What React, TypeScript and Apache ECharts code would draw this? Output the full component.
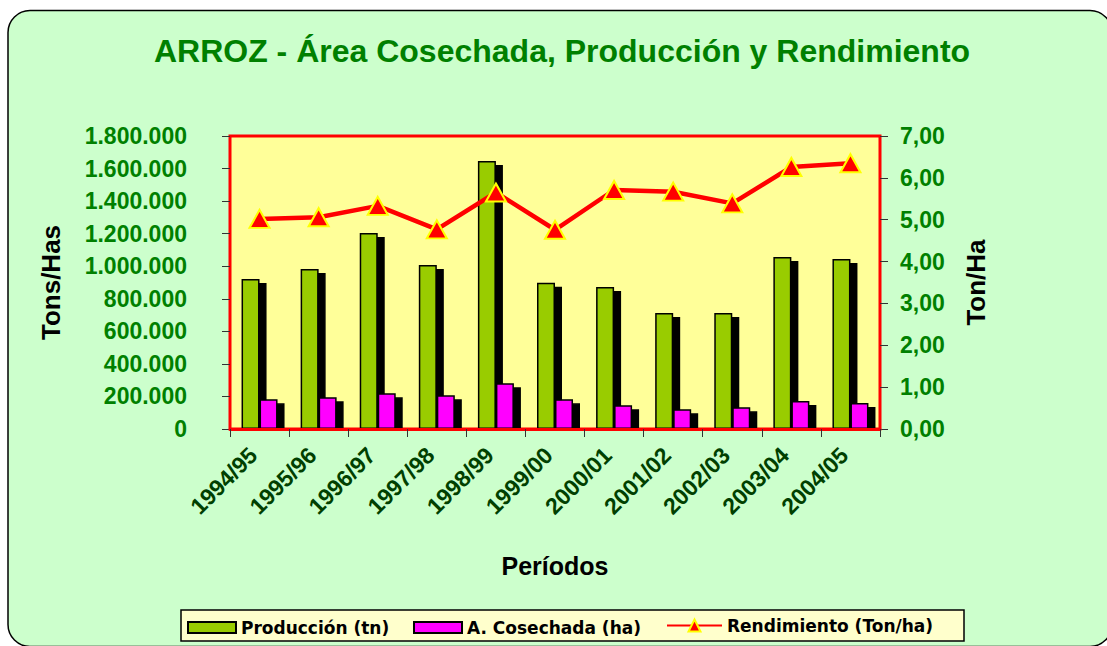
import React, { useEffect, useRef } from "react";
import * as echarts from "echarts";

const categories = ["1994/95", "1995/96", "1996/97", "1997/98", "1998/99", "1999/00", "2000/01", "2001/02", "2002/03", "2003/04", "2004/05"];
const produccion = [921000, 983000, 1204000, 1007000, 1646000, 899000, 872000, 713000, 713000, 1057000, 1044000];
const cosechada = [182000, 195000, 219000, 207000, 281000, 182000, 146000, 121000, 133000, 172000, 160000];
const rendimiento = [5.02, 5.06, 5.33, 4.77, 5.65, 4.76, 5.71, 5.67, 5.39, 6.26, 6.35];
const seriesNames = ["Producción (tn)", "A. Cosechada (ha)", "Rendimiento (Ton/ha)"];
const titleText = "ARROZ - Área Cosechada, Producción y Rendimiento";

const FONT = "'Liberation Sans', Arial, sans-serif";
const LEGEND_FONT = "'DejaVu Sans', sans-serif";

function fmtThousands(v: number): string {
  return String(v).replace(/\B(?=(\d{3})+(?!\d))/g, ".");
}

export default function App() {
  const ref = useRef<HTMLDivElement>(null);
  useEffect(() => {
    if (!ref.current) return;
    const chart = echarts.init(ref.current, null, { renderer: "svg" });
    const noShadow = { shadowBlur: 0, shadowOffsetX: 0, shadowOffsetY: 0, shadowColor: "rgba(0,0,0,0)" };
    const legendText = { fontFamily: LEGEND_FONT, fontWeight: "bold", fontSize: 17, color: "#000" };
    chart.setOption({
      animation: false,
      graphic: [
        {
          type: "rect",
          z: -10,
          shape: { x: 8, y: 10.5, width: 1104, height: 636, r: 22 },
          style: { fill: "#CCFFCC", stroke: "#000", lineWidth: 1.5 },
        },
        {
          type: "rect",
          z: 2.5,
          shape: { x: 228, y: 430.5, width: 660, height: 6 },
          style: { fill: "#CCFFCC" },
        },
        {
          type: "rect",
          z: 3,
          shape: { x: 181, y: 610, width: 783, height: 31 },
          style: { fill: "#FFFFCC", stroke: "#000", lineWidth: 1.5 },
        },
        {
          type: "text",
          z: 5,
          x: 562,
          y: 51,
          style: {
            text: titleText,
            fill: "#008000",
            font: `bold 32px ${FONT}`,
            textAlign: "center",
            textVerticalAlign: "middle",
          },
        },
      ],
      grid: {
        left: 230,
        right: 227,
        top: 136,
        bottom: 217,
        show: true,
        backgroundColor: "#FFFF99",
        borderColor: "#FF0000",
        borderWidth: 3,
      },
      legend: [
        {
          data: [seriesNames[0]],
          left: 187,
          top: 619,
          padding: 0,
          icon: "rect",
          itemWidth: 48,
          itemHeight: 11,
          textStyle: legendText,
          itemStyle: { ...noShadow, borderColor: "#000", borderWidth: 2 },
        },
        {
          data: [seriesNames[1]],
          left: 413,
          top: 619,
          padding: 0,
          icon: "rect",
          itemWidth: 48,
          itemHeight: 11,
          textStyle: legendText,
          itemStyle: { ...noShadow, borderColor: "#000", borderWidth: 2 },
        },
        {
          data: [seriesNames[2]],
          left: 666,
          top: 617,
          padding: 0,
          itemWidth: 55,
          itemHeight: 15,
          textStyle: legendText,
        },
      ],
      xAxis: {
        type: "category",
        data: categories,
        z: 3,
        boundaryGap: true,
        axisLine: { show: true, lineStyle: { color: "#FF0000", width: 3 } },
        axisTick: { show: true, length: 8, interval: 0, lineStyle: { color: "#333", width: 1 } },
        axisLabel: {
          interval: 0,
          rotate: 45,
          margin: 16,
          padding: [0, 9, 0, 0],
          color: "#004000",
          fontFamily: FONT,
          fontWeight: "bold",
          fontSize: 23,
        },
        name: "Períodos",
        nameLocation: "middle",
        nameGap: 124,
        nameTextStyle: { color: "#000", fontFamily: FONT, fontWeight: "bold", fontSize: 25 },
        splitLine: { show: false },
      },
      yAxis: [
        {
          type: "value",
          min: 0,
          max: 1800000,
          interval: 200000,
          position: "left",
          axisLine: { show: false },
          axisTick: { show: true, length: 8, lineStyle: { color: "#333", width: 1 } },
          splitLine: { show: false },
          axisLabel: {
            margin: 43,
            color: "#008000",
            fontFamily: FONT,
            fontWeight: "bold",
            fontSize: 23,
            formatter: (v: number) => fmtThousands(v),
          },
          name: "Tons/Has",
          nameLocation: "middle",
          nameGap: 166,
          nameRotate: 90,
          nameTextStyle: { color: "#000", fontFamily: FONT, fontWeight: "bold", fontSize: 26 },
        },
        {
          type: "value",
          min: 0,
          max: 7,
          interval: 1,
          position: "right",
          axisLine: { show: false },
          axisTick: { show: true, length: 8, lineStyle: { color: "#333", width: 1 } },
          splitLine: { show: false },
          axisLabel: {
            margin: 20,
            color: "#008000",
            fontFamily: FONT,
            fontWeight: "bold",
            fontSize: 23,
            formatter: (v: number) => v.toFixed(2).replace(".", ","),
          },
          name: "Ton/Ha",
          nameLocation: "middle",
          nameGap: 83,
          nameRotate: 90,
          nameTextStyle: { color: "#000", fontFamily: FONT, fontWeight: "bold", fontSize: 26 },
        },
      ],
      series: [
        {
          name: seriesNames[0],
          type: "bar",
          data: produccion,
          barWidth: 18,
          barGap: "0%",
          itemStyle: {
            color: "#99CC00",
            borderColor: "#000",
            borderWidth: 1.5,
            shadowColor: "#000",
            shadowBlur: 0,
            shadowOffsetX: 7,
            shadowOffsetY: 4,
          },
        },
        {
          name: seriesNames[1],
          type: "bar",
          data: cosechada,
          barWidth: 18,
          barGap: "0%",
          itemStyle: {
            color: "#FF00FF",
            borderColor: "#000",
            borderWidth: 1.5,
            shadowColor: "#000",
            shadowBlur: 0,
            shadowOffsetX: 7,
            shadowOffsetY: 4,
          },
        },
        {
          name: seriesNames[2],
          type: "line",
          yAxisIndex: 1,
          data: rendimiento,
          z: 5,
          symbol: "triangle",
          symbolSize: [20, 18],
          lineStyle: { color: "#FF0000", width: 4.5 },
          itemStyle: { color: "#FF0000", borderColor: "#FFFF00", borderWidth: 2 },
        },
      ],
    });
    return () => chart.dispose();
  }, []);
  return (
    <div
      ref={ref}
      style={{ position: "absolute", left: 0, top: 0, width: 1107, height: 646, background: "#fff" }}
    />
  );
}
